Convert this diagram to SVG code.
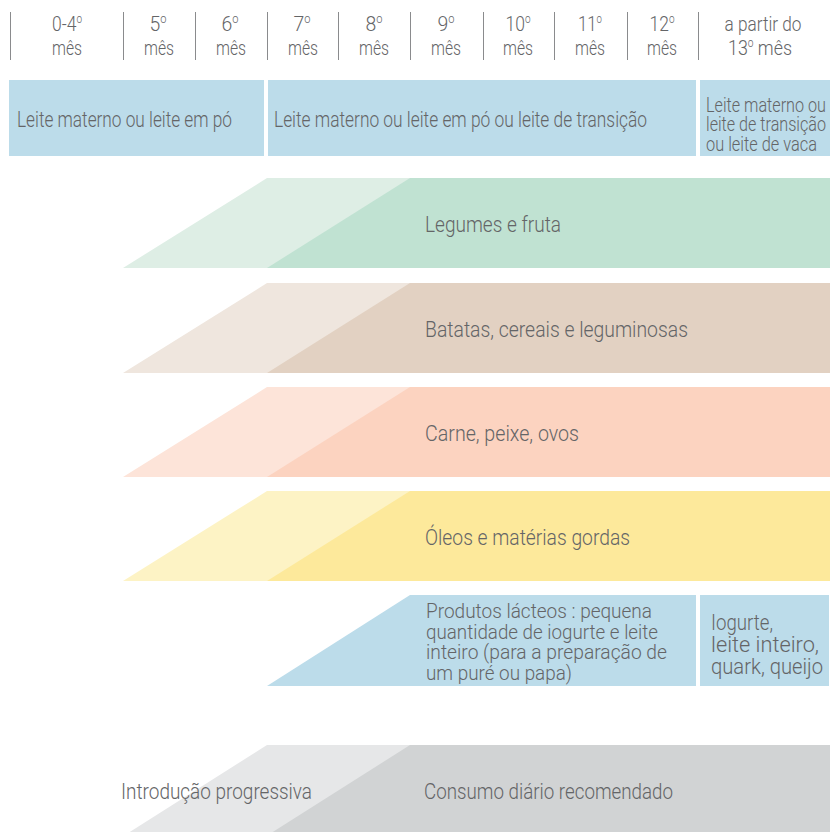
<svg xmlns="http://www.w3.org/2000/svg" width="830" height="832" viewBox="0 0 830 832">
<style>
text{font-family:Roboto,"Liberation Sans",Arial,sans-serif;font-weight:300;fill:#646567}
.h{font-size:21px;text-anchor:middle}
.t{font-size:22px}
.s{font-size:21px}
.sep{stroke:#8a8b8d;stroke-width:1}
.sup{font-size:12px}
</style>
<rect width="830" height="832" fill="#ffffff"/>
<g id="header">
<g class="sep">
<line x1="10.5" y1="12" x2="10.5" y2="60"/>
<line x1="123.5" y1="12" x2="123.5" y2="60"/>
<line x1="195.5" y1="12" x2="195.5" y2="60"/>
<line x1="267.5" y1="12" x2="267.5" y2="60"/>
<line x1="338.5" y1="12" x2="338.5" y2="60"/>
<line x1="410.5" y1="12" x2="410.5" y2="60"/>
<line x1="483.5" y1="12" x2="483.5" y2="60"/>
<line x1="554.5" y1="12" x2="554.5" y2="60"/>
<line x1="627.5" y1="12" x2="627.5" y2="60"/>
<line x1="698.5" y1="12" x2="698.5" y2="60"/>
</g>
<text class="h" x="67" y="31" textLength="30" lengthAdjust="spacingAndGlyphs">0-4<tspan class="sup" dy="-8">o</tspan></text><text class="h" x="67" y="55" textLength="30" lengthAdjust="spacingAndGlyphs">mês</text>
<text class="h" x="158" y="31" textLength="17" lengthAdjust="spacingAndGlyphs">5<tspan class="sup" dy="-8">o</tspan></text><text class="h" x="159" y="55" textLength="30" lengthAdjust="spacingAndGlyphs">mês</text>
<text class="h" x="230" y="31" textLength="17" lengthAdjust="spacingAndGlyphs">6<tspan class="sup" dy="-8">o</tspan></text><text class="h" x="231" y="55" textLength="30" lengthAdjust="spacingAndGlyphs">mês</text>
<text class="h" x="302" y="31" textLength="17" lengthAdjust="spacingAndGlyphs">7<tspan class="sup" dy="-8">o</tspan></text><text class="h" x="303" y="55" textLength="30" lengthAdjust="spacingAndGlyphs">mês</text>
<text class="h" x="374" y="31" textLength="17" lengthAdjust="spacingAndGlyphs">8<tspan class="sup" dy="-8">o</tspan></text><text class="h" x="374" y="55" textLength="30" lengthAdjust="spacingAndGlyphs">mês</text>
<text class="h" x="446" y="31" textLength="17" lengthAdjust="spacingAndGlyphs">9<tspan class="sup" dy="-8">o</tspan></text><text class="h" x="446" y="55" textLength="30" lengthAdjust="spacingAndGlyphs">mês</text>
<text class="h" x="518" y="31" textLength="25" lengthAdjust="spacingAndGlyphs">10<tspan class="sup" dy="-8">o</tspan></text><text class="h" x="518" y="55" textLength="30" lengthAdjust="spacingAndGlyphs">mês</text>
<text class="h" x="590" y="31" textLength="24" lengthAdjust="spacingAndGlyphs">11<tspan class="sup" dy="-8">o</tspan></text><text class="h" x="590" y="55" textLength="30" lengthAdjust="spacingAndGlyphs">mês</text>
<text class="h" x="662" y="31" textLength="25" lengthAdjust="spacingAndGlyphs">12<tspan class="sup" dy="-8">o</tspan></text><text class="h" x="662" y="55" textLength="30" lengthAdjust="spacingAndGlyphs">mês</text>
<text class="h" x="763" y="31" textLength="77" lengthAdjust="spacingAndGlyphs">a partir do</text><text class="h" x="760" y="55" textLength="64" lengthAdjust="spacingAndGlyphs">13<tspan class="sup" dy="-8">o</tspan><tspan dy="8"> mês</tspan></text>
</g>
<g id="milk">
<rect x="9" y="80" width="255" height="76" fill="#bcdcea"/>
<rect x="268" y="80" width="428" height="76" fill="#bcdcea"/>
<rect x="700" y="80" width="130" height="76" fill="#bcdcea"/>
<text class="t" x="17" y="126.5" textLength="215" lengthAdjust="spacingAndGlyphs">Leite materno ou leite em pó</text>
<text class="t" x="274" y="126.5" textLength="373" lengthAdjust="spacingAndGlyphs">Leite materno ou leite em pó ou leite de transição</text>
<text class="s" x="706" y="111.5" textLength="120" lengthAdjust="spacingAndGlyphs">Leite materno ou</text>
<text class="s" x="706" y="131" textLength="120" lengthAdjust="spacingAndGlyphs">leite de transição</text>
<text class="s" x="706" y="150.5" textLength="111" lengthAdjust="spacingAndGlyphs">ou leite de vaca</text>
</g>
<g id="legumes">
<polygon points="123,268 267,178 830,178 830,268" fill="#deeee5"/>
<polygon points="267,268 410,178 830,178 830,268" fill="#c0e2d2"/>
<text class="t" x="425" y="232" textLength="136" lengthAdjust="spacingAndGlyphs">Legumes e fruta</text>
</g>
<g id="batatas">
<polygon points="123,373 267,283 830,283 830,373" fill="#efe6de"/>
<polygon points="267,373 410,283 830,283 830,373" fill="#e2d1c2"/>
<text class="t" x="425" y="337" textLength="263" lengthAdjust="spacingAndGlyphs">Batatas, cereais e leguminosas</text>
</g>
<g id="carne">
<polygon points="123,477 267,387 830,387 830,477" fill="#fde4d9"/>
<polygon points="267,477 410,387 830,387 830,477" fill="#fcd3c0"/>
<text class="t" x="425" y="441" textLength="154" lengthAdjust="spacingAndGlyphs">Carne, peixe, ovos</text>
</g>
<g id="oleos">
<polygon points="123,581 267,491 830,491 830,581" fill="#fdf3c5"/>
<polygon points="267,581 410,491 830,491 830,581" fill="#fde99b"/>
<text class="t" x="425" y="544.5" textLength="205" lengthAdjust="spacingAndGlyphs">Óleos e matérias gordas</text>
</g>
<g id="lacteos">
<polygon points="267,686 410,595 696,595 696,686" fill="#bcdcea"/>
<rect x="700" y="595" width="129" height="91" fill="#bcdcea"/>
<text class="s" x="426" y="618" textLength="226" lengthAdjust="spacingAndGlyphs">Produtos lácteos : pequena</text>
<text class="s" x="426" y="638.5" textLength="232" lengthAdjust="spacingAndGlyphs">quantidade de iogurte e leite</text>
<text class="s" x="426" y="659" textLength="241" lengthAdjust="spacingAndGlyphs">inteiro (para a preparação de</text>
<text class="s" x="426" y="679.5" textLength="146" lengthAdjust="spacingAndGlyphs">um puré ou papa)</text>
<text class="t" x="711" y="629.5" textLength="62" lengthAdjust="spacingAndGlyphs">Iogurte,</text>
<text class="t" x="711" y="651.5" textLength="108" lengthAdjust="spacingAndGlyphs">leite inteiro,</text>
<text class="t" x="711" y="673.5" textLength="112" lengthAdjust="spacingAndGlyphs">quark, queijo</text>
</g>
<g id="legend">
<polygon points="125,835 267,745 830,745 830,835" fill="#e6e7e8"/>
<polygon points="268,835 410,745 830,745 830,835" fill="#d1d3d4"/>
<text class="t" x="121" y="799" textLength="191" lengthAdjust="spacingAndGlyphs">Introdução progressiva</text>
<text class="t" x="424" y="799" textLength="249" lengthAdjust="spacingAndGlyphs">Consumo diário recomendado</text>
</g>
</svg>
